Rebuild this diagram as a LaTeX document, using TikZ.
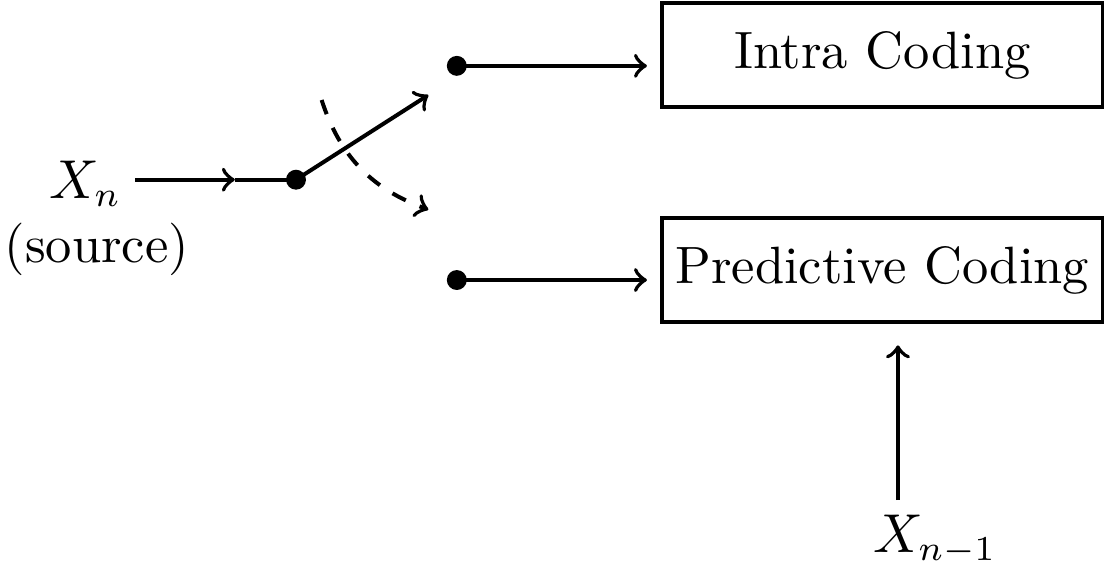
\documentclass[tikz,border=0pt]{standalone}
\usetikzlibrary{positioning}
\tikzset{
  every node/.style={font=\fontsize{10.5pt}{12.6pt}\selectfont},
  codingbox/.style={draw, thick, minimum width=3.1cm, minimum height=0.73cm, inner sep=0pt},
  contact/.style={circle, fill, inner sep=0pt, minimum size=0.14cm},
}
\begin{document}
\begin{tikzpicture}[thick, >=to]
  \useasboundingbox (0,0) rectangle (7.758,4.013);

  % Codierer
  \node[codingbox] (intra) at (6.20,3.626) {Intra Coding};
  \node[codingbox] (pred) at (6.20,2.115) {Predictive Coding};

  % Quelle
  \node (xn) at (0.60,2.72) {$X_n$};
  \node (src) at (0.68,2.26) {(source)};
  \coordinate (in) at (0.95,2.75);
  \coordinate (mid) at (1.65,2.75);

  % Schalter
  \node[contact] (pivot) at (2.08,2.75) {};
  \node[contact] (up) at (3.21,3.55) {};
  \node[contact] (down) at (3.21,2.045) {};
  \coordinate (tip) at (3.01,3.345);
  \coordinate (arcA) at (2.26,3.31);
  \coordinate (arcB) at (3.01,2.54);

  \draw[->] (in) -- (mid);
  \draw (mid) -- (pivot.center);
  \draw[->] (pivot.center) -- (tip);
  \draw[->, dashed] (arcA) to[out=-72, in=160] (arcB);

  % Ausgaenge
  \draw[->, shorten >=0.09cm] (up.center) -- (up -| intra.west);
  \draw[->, shorten >=0.09cm] (down.center) -- (down -| pred.west);

  % Vorheriges Bild
  \node (prev) at (6.57,0.218) {$X_{n-1}$};
  \coordinate (pin) at (6.31,0.499);
  \draw[->, shorten >=0.15cm] (pin) -- (pin |- pred.south);
\end{tikzpicture}
\end{document}
